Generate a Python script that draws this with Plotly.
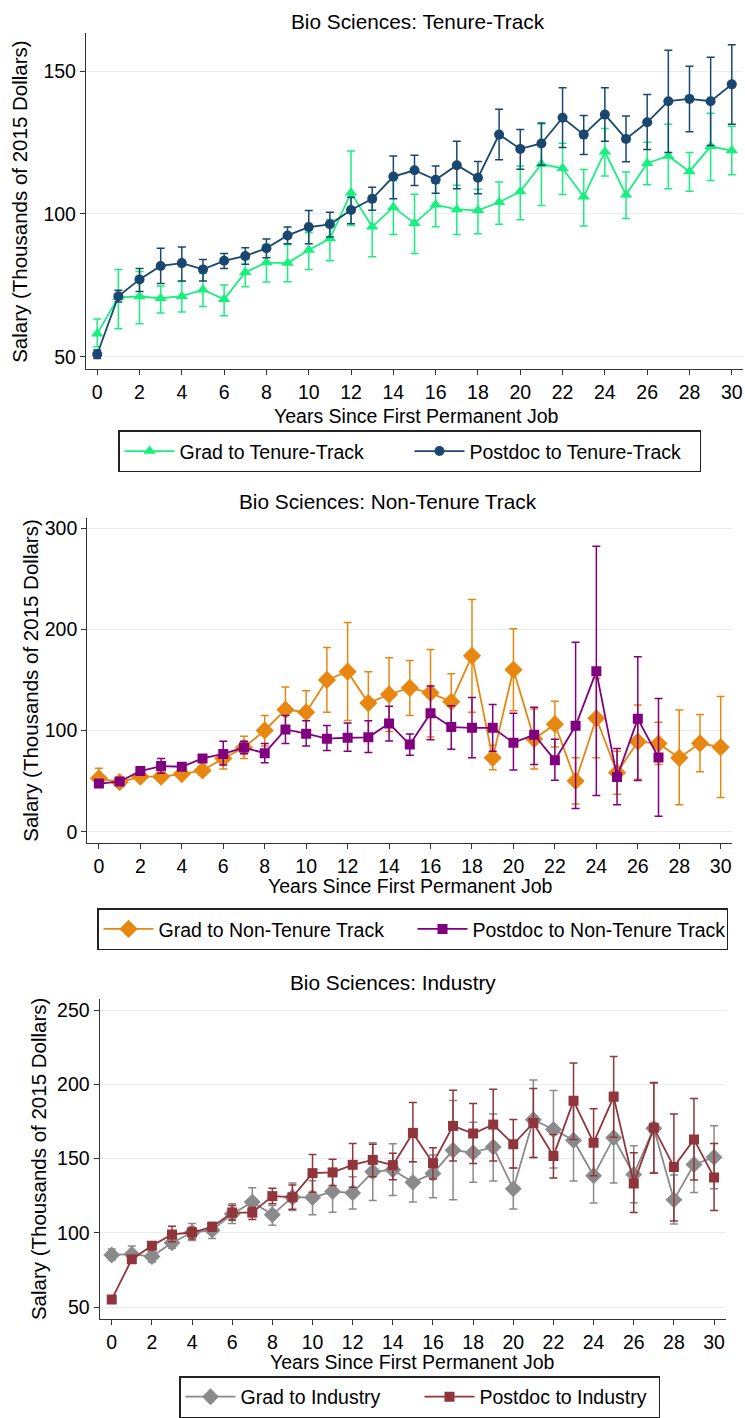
import plotly.graph_objects as go

W, H = 745, 1418

years = list(range(31))
xtick_vals = list(range(0, 31, 2))

# ---------- Panel 1: Tenure-Track ----------
tt_grad = [58.1, 70.8, 71.1, 70.5, 71.2, 73.5, 70.1, 79.6, 83.0, 82.8, 87.4, 91.4, 107.4, 95.5, 102.4,
           96.8, 103.2, 101.6, 101.3, 104.1, 107.9, 117.5, 116.0, 106.0, 121.8, 106.7, 117.8, 120.3, 114.9, 123.7, 122.2]
tt_grad_hi = [63.2, 80.6, 79.9, 74.8, 76.4, 79.2, 75.1, 84.1, 89.4, 89.2, 93.4, 98.0, 122.1, 106.0, 111.6,
              106.9, 110.8, 110.1, 108.7, 111.2, 116.8, 131.5, 124.8, 115.6, 129.9, 114.7, 125.1, 131.4, 121.5, 135.3, 130.7]
tt_grad_lo = [53.5, 59.8, 61.6, 65.3, 65.7, 67.6, 64.4, 74.5, 76.2, 76.3, 80.6, 83.6, 96.0, 85.0, 92.8,
              86.2, 95.5, 92.8, 93.1, 96.4, 98.0, 103.0, 106.8, 95.8, 113.3, 98.4, 110.2, 108.8, 108.0, 111.7, 113.7]

tt_post = [50.9, 71.2, 77.1, 81.8, 82.8, 80.6, 83.6, 85.3, 88.0, 92.5, 95.4, 96.4, 101.4, 105.3, 113.1,
           115.3, 112.0, 117.1, 112.7, 127.8, 122.8, 124.7, 133.7, 127.8, 134.8, 126.3, 132.1, 139.5, 140.3, 139.5, 145.4]
tt_post_hi = [52.4, 73.3, 80.9, 88.0, 88.4, 84.1, 86.2, 88.2, 91.2, 95.4, 101.2, 100.6, 105.9, 109.4, 120.3,
              120.6, 116.8, 125.5, 118.4, 136.7, 129.6, 131.9, 144.2, 134.5, 144.2, 134.3, 141.8, 157.3, 151.7, 154.9, 159.3]
tt_post_lo = [49.4, 69.2, 72.9, 75.7, 76.5, 76.5, 80.9, 82.4, 84.7, 89.6, 89.6, 91.9, 96.6, 101.3, 105.3,
              110.0, 107.3, 108.8, 107.1, 119.0, 115.7, 117.1, 123.3, 120.8, 125.5, 118.3, 122.6, 121.5, 128.8, 124.0, 131.4]

# ---------- Panel 2: Non-Tenure Track ----------
nt_grad = [52.9, 49.0, 54.5, 54.5, 57.1, 60.7, 72.5, 83.3, 100.2, 120.8, 118.2, 150.2, 158.3, 127.3, 135.8,
           142.3, 137.4, 128.6, 174.0, 73.1, 160.3, 91.7, 106.4, 50.3, 112.3, 58.4, 89.1, 87.2, 73.1, 87.5, 83.6]
nt_grad_hi = [62.7, 53.5, 58.4, 57.8, 60.5, 64.3, 80.6, 94.4, 114.9, 143.3, 139.4, 182.2, 207.0, 158.3, 172.1,
              169.4, 180.2, 156.4, 229.8, 85.5, 200.8, 121.5, 129.0, 73.1, 151.5, 79.7, 125.4, 108.4, 120.5, 115.9, 133.9]
nt_grad_lo = [44.5, 44.7, 50.0, 51.2, 53.8, 56.2, 62.0, 72.5, 84.9, 99.2, 97.0, 118.2, 110.0, 95.3, 99.2,
              114.9, 93.7, 100.2, 118.2, 61.4, 119.8, 62.0, 83.9, 27.4, 73.1, 37.2, 51.9, 66.6, 26.8, 59.4, 34.0]

nt_years = list(range(28))
nt_post = [47.7, 49.6, 60.1, 65.0, 64.3, 72.5, 77.0, 83.3, 77.7, 101.2, 97.0, 92.1, 93.0, 93.4, 107.1,
           86.2, 117.2, 103.5, 102.8, 102.8, 88.1, 96.0, 70.8, 104.8, 158.7, 54.2, 111.7, 73.5]
nt_post_hi = [51.0, 52.0, 64.3, 72.5, 67.5, 75.7, 89.5, 89.5, 87.2, 114.9, 109.7, 105.1, 107.7, 109.7, 124.1,
              96.6, 144.3, 124.7, 132.9, 126.0, 117.2, 123.1, 91.4, 187.4, 282.4, 82.3, 173.0, 131.9]
nt_post_lo = [44.5, 47.2, 56.2, 57.8, 61.1, 69.3, 66.0, 77.1, 68.2, 87.2, 84.9, 80.3, 79.7, 78.4, 89.8,
              75.7, 91.1, 81.6, 73.1, 79.7, 61.1, 66.6, 50.9, 22.9, 35.9, 26.8, 50.6, 15.3]

# ---------- Panel 3: Industry ----------
in_grad = [85.1, 85.6, 84.0, 93.3, 100.2, 101.8, 112.7, 120.7, 112.2, 124.0, 123.8, 127.8, 126.9, 141.1, 142.4,
           134.0, 140.0, 155.6, 154.0, 157.8, 129.6, 176.2, 169.6, 162.4, 138.4, 164.0, 139.3, 170.4, 122.2, 146.0, 150.9]
in_grad_hi = [89.1, 91.1, 87.3, 96.7, 106.2, 106.2, 119.6, 130.4, 118.4, 133.6, 135.1, 138.9, 137.8, 160.7, 160.0,
              147.8, 152.4, 189.1, 174.4, 180.0, 143.6, 202.9, 195.8, 190.2, 158.4, 194.7, 158.7, 200.7, 138.9, 165.1, 172.2]
in_grad_lo = [81.6, 81.1, 80.2, 89.6, 94.9, 96.2, 106.2, 110.9, 105.1, 115.1, 112.2, 113.8, 116.0, 121.8, 125.1,
              120.7, 123.6, 122.2, 134.0, 134.9, 116.0, 150.7, 143.6, 134.9, 120.0, 133.6, 120.2, 140.7, 106.0, 127.1, 129.6]

in_post = [55.1, 82.2, 91.3, 98.9, 100.2, 104.0, 113.6, 113.6, 124.7, 124.0, 140.2, 140.7, 145.8, 149.1, 145.6,
           167.3, 146.9, 172.0, 166.9, 172.9, 159.6, 174.0, 151.8, 188.9, 160.7, 191.6, 133.3, 170.7, 144.4, 162.9, 137.3]
in_post_hi = [55.9, 84.2, 93.3, 104.4, 103.6, 107.0, 118.4, 117.3, 130.0, 132.2, 152.7, 149.6, 160.2, 159.6, 153.6,
              187.8, 157.3, 196.0, 187.1, 196.7, 176.4, 197.3, 166.2, 214.4, 183.6, 218.7, 154.0, 201.3, 180.0, 190.4, 160.2]
in_post_lo = [54.3, 80.2, 89.3, 94.0, 95.8, 101.0, 108.4, 108.9, 119.6, 115.8, 127.3, 131.8, 130.7, 137.8, 135.8,
              147.8, 136.2, 148.4, 146.7, 148.4, 143.6, 150.7, 136.9, 162.9, 138.4, 164.4, 113.6, 140.2, 108.0, 135.6, 115.1]

titles = ["Bio Sciences: Tenure-Track", "Bio Sciences: Non-Tenure Track", "Bio Sciences: Industry"]
xlabel = "Years Since First Permanent Job"
ylabel = "Salary (Thousands of 2015 Dollars)"
legend_names = [("Grad to Tenure-Track", "Postdoc to Tenure-Track"),
                ("Grad to Non-Tenure Track", "Postdoc to Non-Tenure Track"),
                ("Grad to Industry", "Postdoc to Industry")]

FONT = "Liberation Sans, Arial, Helvetica, sans-serif"
FS = 19.5
GREEN = "#17f07e"
NAVY = "#1a476f"
ORANGE = "#e8870f"
PURPLE = "#800080"
GRAY = "#8a8a8a"
MAROON = "#90353b"
GRID = "#e6eef0"
AXC = "#333333"


def px_y(p):
    return 1 - p / H


def px_x(p):
    return p / W


def add_series(fig, x, m, lo, hi, name, color, symbol, msize, xa, ya, legend):
    fig.add_trace(go.Scatter(
        x=x, y=m, name=name, mode="lines+markers",
        line=dict(color=color, width=1.8),
        marker=dict(color=color, symbol=symbol, size=msize, line=dict(width=0)),
        error_y=dict(type="data", symmetric=False,
                     array=[h - v for h, v in zip(hi, m)],
                     arrayminus=[v - l for v, l in zip(m, lo)],
                     color=color, thickness=1.5, width=4),
        xaxis=xa, yaxis=ya, legend=legend, showlegend=True,
    ))


fig = go.Figure()

add_series(fig, years, tt_grad, tt_grad_lo, tt_grad_hi, legend_names[0][0], GREEN, "triangle-up", 11, "x", "y", "legend")
add_series(fig, years, tt_post, tt_post_lo, tt_post_hi, legend_names[0][1], NAVY, "circle", 10, "x", "y", "legend")
add_series(fig, years, nt_grad, nt_grad_lo, nt_grad_hi, legend_names[1][0], ORANGE, "diamond", 14, "x2", "y2", "legend2")
add_series(fig, nt_years, nt_post, nt_post_lo, nt_post_hi, legend_names[1][1], PURPLE, "square", 10, "x2", "y2", "legend2")
add_series(fig, years, in_grad, in_grad_lo, in_grad_hi, legend_names[2][0], GRAY, "diamond", 13, "x3", "y3", "legend3")
add_series(fig, years, in_post, in_post_lo, in_post_hi, legend_names[2][1], MAROON, "square", 10, "x3", "y3", "legend3")

# panel geometry in pixels: (left, right, top, bottom)
panels = [(86, 743, 33, 373), (87.3, 732.3, 523.3, 852.3), (99.7, 725.7, 1010, 1333.3)]
xranges = [[-0.53, 30.53], [-0.56, 30.56], [-0.6, 30.58]]
yranges = [[45.7, 163.5], [-11.4, 310.6], [41.8, 257.3]]
yticks = [[50, 100, 150], [0, 100, 200, 300], [50, 100, 150, 200, 250]]

axis_common = dict(showline=True, linecolor=AXC, linewidth=1.3, ticks="outside", ticklen=5,
                   tickcolor=AXC, tickwidth=1.3, tickfont=dict(family=FONT, size=FS, color="black"),
                   zeroline=False, mirror=False)

for i, (l, r, t, b) in enumerate(panels):
    sfx = "" if i == 0 else str(i + 1)
    fig.layout["xaxis" + sfx] = dict(
        domain=[px_x(l), px_x(r)], range=xranges[i], tickvals=xtick_vals,
        showgrid=False, anchor="y" + sfx, **axis_common)
    fig.layout["yaxis" + sfx] = dict(
        domain=[px_y(b), px_y(t)], range=yranges[i], tickvals=yticks[i],
        showgrid=True, gridcolor=GRID, gridwidth=1.2, anchor="x" + sfx, **axis_common)

annos = []
# titles (center x px, center y px)
title_pos = [(418, 22), (388, 507), (393, 993)]
for (cx, cy), txt in zip(title_pos, titles):
    annos.append(dict(text=txt, x=px_x(cx), y=px_y(cy), xref="paper", yref="paper",
                      xanchor="center", yanchor="middle", showarrow=False,
                      font=dict(family=FONT, size=20.8, color="black")))
# x labels
xl_pos = [(416, 420), (410, 895), (412, 1377)]
for cx, cy in xl_pos:
    annos.append(dict(text=xlabel, x=px_x(cx), y=px_y(cy), xref="paper", yref="paper",
                      xanchor="center", yanchor="middle", showarrow=False,
                      font=dict(family=FONT, size=FS, color="black")))
# y labels
yl_pos = [(20, 204), (31, 688), (38, 1171.5)]
for cx, cy in yl_pos:
    annos.append(dict(text=ylabel, x=px_x(cx), y=px_y(cy), xref="paper", yref="paper",
                      xanchor="center", yanchor="middle", showarrow=False, textangle=-90,
                      font=dict(family=FONT, size=20.5, color="black")))

legend_common = dict(orientation="h", xanchor="left", yanchor="top", bgcolor="white",
                     bordercolor="#222222", borderwidth=1.5,
                     font=dict(family=FONT, size=FS, color="black"),
                     itemwidth=50, itemclick=False, itemdoubleclick=False,
                     entrywidthmode="pixels")
leg_pos = [(118, 435), (97, 918), (179, 1391)]
leg_entry = [225, 249, 174]

fig.update_layout(
    width=W, height=H, margin=dict(l=0, r=0, t=0, b=0, pad=0),
    paper_bgcolor="white", plot_bgcolor="white",
    font=dict(family=FONT, size=FS, color="black"),
    annotations=annos,
    legend=dict(x=px_x(leg_pos[0][0]), y=px_y(leg_pos[0][1]), entrywidth=leg_entry[0], **legend_common),
    legend2=dict(x=px_x(leg_pos[1][0]), y=px_y(leg_pos[1][1]), entrywidth=leg_entry[1], **legend_common),
    legend3=dict(x=px_x(leg_pos[2][0]), y=px_y(leg_pos[2][1]), entrywidth=leg_entry[2], **legend_common),
)

fig.write_html("out.html")
